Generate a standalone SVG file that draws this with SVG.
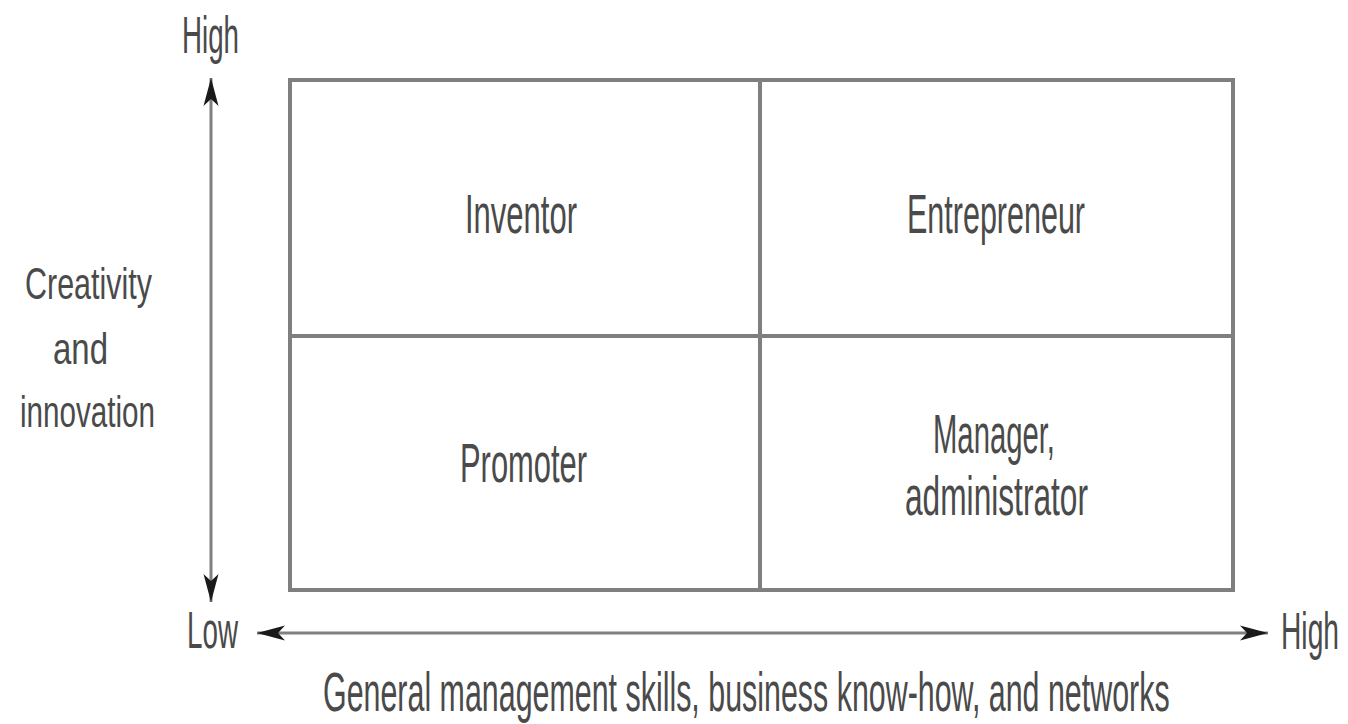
<svg xmlns="http://www.w3.org/2000/svg" width="1348" height="724" viewBox="0 0 1348 724">
<style>
.t{font-family:"Liberation Sans",Arial,sans-serif;fill:#4a4a4a;}
.q{font-size:56px;}
.ax{font-size:52px;}
.side{font-size:45px;}
.grid{fill:none;stroke:#7f7f7f;stroke-width:4;}
.arr{fill:none;stroke:#808080;stroke-width:3;}
</style>
<defs>
<marker id="ah" markerUnits="userSpaceOnUse" markerWidth="30" markerHeight="18" refX="28" refY="9" orient="auto-start-reverse">
<path d="M0,1.5 L28,9 L0,16.5 L7,9 Z" fill="#1a1a1a"/>
</marker>
</defs>
<rect width="1348" height="724" fill="#ffffff"/>
<g id="matrix">
<rect class="grid" x="290" y="80" width="943" height="510"/>
<line class="grid" x1="760" y1="80" x2="760" y2="590"/>
<line class="grid" x1="290" y1="336" x2="1233" y2="336"/>
</g>
<g id="inventor"><text class="t q" x="465" y="233" textLength="112" lengthAdjust="spacingAndGlyphs">Inventor</text></g>
<g id="entrepreneur"><text class="t q" x="907" y="233" textLength="178" lengthAdjust="spacingAndGlyphs">Entrepreneur</text></g>
<g id="promoter"><text class="t q" x="460" y="482" textLength="127" lengthAdjust="spacingAndGlyphs">Promoter</text></g>
<g id="manager">
<text class="t q" x="933" y="453" textLength="122" lengthAdjust="spacingAndGlyphs">Manager,</text>
<text class="t q" x="905" y="515" textLength="183" lengthAdjust="spacingAndGlyphs">administrator</text>
</g>
<g id="connectors">
<line class="arr" x1="211" y1="78" x2="211" y2="602" marker-start="url(#ah)" marker-end="url(#ah)"/>
<line class="arr" x1="257" y1="633" x2="1268" y2="633" marker-start="url(#ah)" marker-end="url(#ah)"/>
</g>
<g id="y-axis-labels">
<text class="t ax" x="182" y="53" textLength="57" lengthAdjust="spacingAndGlyphs" font-size="57">High</text>
<text class="t side" x="25" y="299" textLength="127" lengthAdjust="spacingAndGlyphs">Creativity</text>
<text class="t side" x="53" y="364" textLength="55" lengthAdjust="spacingAndGlyphs">and</text>
<text class="t side" x="20" y="427" textLength="135" lengthAdjust="spacingAndGlyphs">innovation</text>
</g>
<g id="x-axis-labels">
<text class="t ax" x="187" y="648" textLength="51" lengthAdjust="spacingAndGlyphs">Low</text>
<g transform="translate(1281,649) scale(0.542,1)">
<text class="t ax" x="0" y="0" textLength="107" lengthAdjust="spacingAndGlyphs">High</text>
</g>
<g transform="translate(323,711) scale(0.542,1)">
<text class="t" x="0" y="0" font-size="56" textLength="1562" lengthAdjust="spacingAndGlyphs">General management skills, business know-how, and networks</text>
</g>
</g>
</svg>
